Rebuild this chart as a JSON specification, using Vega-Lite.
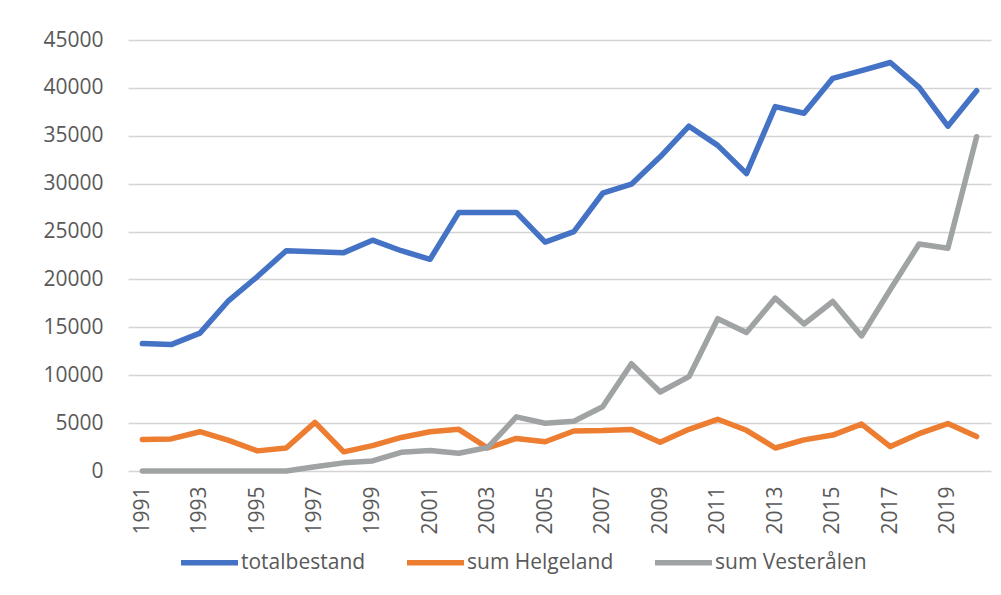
{
  "$schema": "https://vega.github.io/schema/vega-lite/v6.json",
  "autosize": {"type": "none"},
  "width": 863,
  "height": 431,
  "padding": {"left": 128, "top": 40, "right": 10, "bottom": 124},
  "background": "white",
  "data": {
    "values": [
      {"year": 1991, "series": "totalbestand", "value": 13300},
      {"year": 1992, "series": "totalbestand", "value": 13200},
      {"year": 1993, "series": "totalbestand", "value": 14400},
      {"year": 1994, "series": "totalbestand", "value": 17800},
      {"year": 1995, "series": "totalbestand", "value": 20300},
      {"year": 1996, "series": "totalbestand", "value": 23000},
      {"year": 1997, "series": "totalbestand", "value": 22900},
      {"year": 1998, "series": "totalbestand", "value": 22800},
      {"year": 1999, "series": "totalbestand", "value": 24100},
      {"year": 2000, "series": "totalbestand", "value": 23000},
      {"year": 2001, "series": "totalbestand", "value": 22100},
      {"year": 2002, "series": "totalbestand", "value": 27000},
      {"year": 2003, "series": "totalbestand", "value": 27000},
      {"year": 2004, "series": "totalbestand", "value": 27000},
      {"year": 2005, "series": "totalbestand", "value": 23900},
      {"year": 2006, "series": "totalbestand", "value": 25000},
      {"year": 2007, "series": "totalbestand", "value": 29000},
      {"year": 2008, "series": "totalbestand", "value": 29950},
      {"year": 2009, "series": "totalbestand", "value": 32800},
      {"year": 2010, "series": "totalbestand", "value": 36000},
      {"year": 2011, "series": "totalbestand", "value": 34000},
      {"year": 2012, "series": "totalbestand", "value": 31050},
      {"year": 2013, "series": "totalbestand", "value": 38050},
      {"year": 2014, "series": "totalbestand", "value": 37350},
      {"year": 2015, "series": "totalbestand", "value": 41000},
      {"year": 2016, "series": "totalbestand", "value": 41800},
      {"year": 2017, "series": "totalbestand", "value": 42650},
      {"year": 2018, "series": "totalbestand", "value": 40050},
      {"year": 2019, "series": "totalbestand", "value": 36000},
      {"year": 2020, "series": "totalbestand", "value": 39700},
      {"year": 1991, "series": "sum Helgeland", "value": 3300},
      {"year": 1992, "series": "sum Helgeland", "value": 3350},
      {"year": 1993, "series": "sum Helgeland", "value": 4100},
      {"year": 1994, "series": "sum Helgeland", "value": 3200},
      {"year": 1995, "series": "sum Helgeland", "value": 2100},
      {"year": 1996, "series": "sum Helgeland", "value": 2400},
      {"year": 1997, "series": "sum Helgeland", "value": 5080},
      {"year": 1998, "series": "sum Helgeland", "value": 2000},
      {"year": 1999, "series": "sum Helgeland", "value": 2650},
      {"year": 2000, "series": "sum Helgeland", "value": 3500},
      {"year": 2001, "series": "sum Helgeland", "value": 4100},
      {"year": 2002, "series": "sum Helgeland", "value": 4350},
      {"year": 2003, "series": "sum Helgeland", "value": 2400},
      {"year": 2004, "series": "sum Helgeland", "value": 3400},
      {"year": 2005, "series": "sum Helgeland", "value": 3050},
      {"year": 2006, "series": "sum Helgeland", "value": 4180},
      {"year": 2007, "series": "sum Helgeland", "value": 4220},
      {"year": 2008, "series": "sum Helgeland", "value": 4330},
      {"year": 2009, "series": "sum Helgeland", "value": 3000},
      {"year": 2010, "series": "sum Helgeland", "value": 4350},
      {"year": 2011, "series": "sum Helgeland", "value": 5400},
      {"year": 2012, "series": "sum Helgeland", "value": 4250},
      {"year": 2013, "series": "sum Helgeland", "value": 2400},
      {"year": 2014, "series": "sum Helgeland", "value": 3250},
      {"year": 2015, "series": "sum Helgeland", "value": 3750},
      {"year": 2016, "series": "sum Helgeland", "value": 4900},
      {"year": 2017, "series": "sum Helgeland", "value": 2550},
      {"year": 2018, "series": "sum Helgeland", "value": 3900},
      {"year": 2019, "series": "sum Helgeland", "value": 4950},
      {"year": 2020, "series": "sum Helgeland", "value": 3600},
      {"year": 1991, "series": "sum Vesterålen", "value": 0},
      {"year": 1992, "series": "sum Vesterålen", "value": 0},
      {"year": 1993, "series": "sum Vesterålen", "value": 0},
      {"year": 1994, "series": "sum Vesterålen", "value": 0},
      {"year": 1995, "series": "sum Vesterålen", "value": 0},
      {"year": 1996, "series": "sum Vesterålen", "value": 0},
      {"year": 1997, "series": "sum Vesterålen", "value": 450},
      {"year": 1998, "series": "sum Vesterålen", "value": 850},
      {"year": 1999, "series": "sum Vesterålen", "value": 1050},
      {"year": 2000, "series": "sum Vesterålen", "value": 1950},
      {"year": 2001, "series": "sum Vesterålen", "value": 2150},
      {"year": 2002, "series": "sum Vesterålen", "value": 1850},
      {"year": 2003, "series": "sum Vesterålen", "value": 2450},
      {"year": 2004, "series": "sum Vesterålen", "value": 5650},
      {"year": 2005, "series": "sum Vesterålen", "value": 4980},
      {"year": 2006, "series": "sum Vesterålen", "value": 5200},
      {"year": 2007, "series": "sum Vesterålen", "value": 6700},
      {"year": 2008, "series": "sum Vesterålen", "value": 11200},
      {"year": 2009, "series": "sum Vesterålen", "value": 8250},
      {"year": 2010, "series": "sum Vesterålen", "value": 9850},
      {"year": 2011, "series": "sum Vesterålen", "value": 15900},
      {"year": 2012, "series": "sum Vesterålen", "value": 14450},
      {"year": 2013, "series": "sum Vesterålen", "value": 18050},
      {"year": 2014, "series": "sum Vesterålen", "value": 15350},
      {"year": 2015, "series": "sum Vesterålen", "value": 17700},
      {"year": 2016, "series": "sum Vesterålen", "value": 14100},
      {"year": 2017, "series": "sum Vesterålen", "value": 18950},
      {"year": 2018, "series": "sum Vesterålen", "value": 23700},
      {"year": 2019, "series": "sum Vesterålen", "value": 23250},
      {"year": 2020, "series": "sum Vesterålen", "value": 34900}
    ]
  },
  "mark": {"type": "line", "strokeWidth": 5.5, "strokeJoin": "round", "strokeCap": "round"},
  "encoding": {
    "x": {
      "field": "year",
      "type": "ordinal",
      "scale": {"type": "point", "padding": 0.5},
      "axis": {
        "title": null,
        "values": [1991, 1993, 1995, 1997, 1999, 2001, 2003, 2005, 2007, 2009, 2011, 2013, 2015, 2017, 2019],
        "labelAngle": -90,
        "labelPadding": 15,
        "domain": false,
        "ticks": false,
        "grid": false,
        "labelFont": "Open Sans",
        "labelFontSize": 21,
        "labelColor": "#595959"
      }
    },
    "y": {
      "field": "value",
      "type": "quantitative",
      "scale": {"domain": [0, 45000], "nice": false},
      "axis": {
        "title": null,
        "values": [0, 5000, 10000, 15000, 20000, 25000, 30000, 35000, 40000, 45000],
        "format": "d",
        "domain": false,
        "ticks": false,
        "grid": true,
        "gridColor": "#d4d4d4",
        "gridWidth": 1.5,
        "labelPadding": 25,
        "labelFont": "Open Sans",
        "labelFontSize": 21,
        "labelColor": "#595959"
      }
    },
    "color": {
      "field": "series",
      "type": "nominal",
      "sort": ["totalbestand", "sum Helgeland", "sum Vesterålen"],
      "scale": {
        "domain": ["totalbestand", "sum Helgeland", "sum Vesterålen"],
        "range": ["#4472C4", "#ED7D31", "#A0A3A4"]
      },
      "legend": {
        "title": null,
        "orient": "none",
        "direction": "horizontal",
        "legendX": 50,
        "legendY": 491,
        "symbolType": "stroke",
        "symbolSize": 3249,
        "symbolStrokeWidth": 5.5,
        "labelOffset": 0,
        "columnPadding": 30,
        "labelFont": "Open Sans",
        "labelFontSize": 21,
        "labelColor": "#595959",
        "labelLimit": 300
      }
    }
  },
  "config": {"view": {"stroke": null}}
}
